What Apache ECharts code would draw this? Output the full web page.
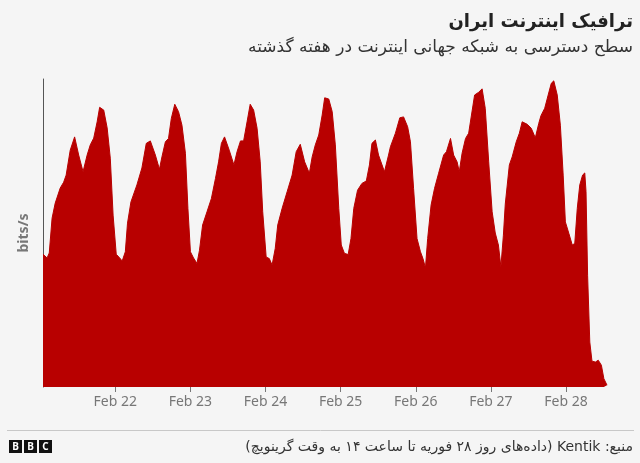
<!DOCTYPE html>
<html>
<head>
<meta charset="utf-8">
<script src="https://cdn.jsdelivr.net/npm/echarts@6/dist/echarts.min.js"></script>
<style>
  html, body { margin: 0; padding: 0; background: #f5f5f5; }
  #main { width: 640px; height: 463px; }
</style>
</head>
<body>
<div id="main" dir="rtl"></div>
<script>
// ساعت از شروع ۲۱ فوریه و مقدار نسبی ترافیک (خوانده از نمودار)
var hours = [0.9,2.2,2.9,3.8,4.8,6.4,7.5,8.3,9.6,11.0,
  12.3,13.7,15.0,16.0,17.1,18.2,19.0,20.3,21.4,22.4,
  23.3,24.3,25.4,26.2,27.2,27.9,29.0,30.9,32.5,33.9,
  35.2,36.8,38.1,38.9,40.0,41.0,41.9,43.0,44.2,45.3,
  46.4,47.2,48.0,49.0,50.1,50.9,51.9,53.3,54.7,56.0,
  57.0,57.9,58.9,60.4,61.9,62.9,64.0,65.0,66.1,67.1,
  68.2,69.3,70.3,71.1,72.2,73.2,74.1,75.1,75.9,77.3,
  78.9,80.5,81.8,83.1,84.5,86.0,86.9,87.9,89.0,90.1,
  90.9,92.2,93.3,94.3,95.4,96.2,97.2,98.4,99.3,100.2,
  101.4,102.8,104.2,105.2,106.0,107.1,108.1,110.0,111.3,111.9,
  113.5,114.9,116.1,117.4,118.3,119.3,120.4,121.5,122.3,123.1,
  123.8,124.9,126.0,127.3,128.9,129.8,131.1,132.1,133.2,133.9,
  134.8,135.9,136.9,137.8,138.8,140.1,141.2,142.2,143.3,144.4,
  145.4,146.4,147.2,148.0,148.6,149.9,150.8,152.1,153.1,154.0,
  155.6,156.9,158.2,159.3,160.0,161.2,162.3,163.3,164.1,165.2,
  166.2,167.1,167.8,168.9,170.0,170.8,171.6,172.4,173.3,174.0,
  174.4,174.9,175.6,176.3,177.4,178.3,179.3,180.1,181.1];

var traffic = [43.1,41.9,43.5,54.8,59.7,64.6,66.5,68.8,76.9,81.2,
  75.3,69.9,75.3,78.6,80.8,86.1,90.8,89.9,84.1,74.3,
  55.8,43.1,41.9,40.9,43.9,53.2,60.1,65.6,71.1,79.1,
  79.9,75.3,70.7,74.7,79.6,80.7,87.2,91.8,89.4,85.0,
  75.9,58.0,43.9,41.9,40.1,44.4,52.6,56.9,61.2,67.7,
  73.1,79.1,81.2,76.9,72.1,76.4,79.9,79.9,86.1,91.8,
  89.9,84.0,73.1,56.9,42.2,41.7,39.6,45.0,52.6,58.0,
  63.4,68.8,76.4,78.8,73.1,69.4,74.7,78.6,81.8,88.3,
  93.9,93.5,89.4,78.6,58.0,46.1,43.4,43.0,48.2,58.0,
  63.9,66.1,66.9,72.1,79.1,80.2,75.3,69.9,75.3,78.0,
  82.4,87.4,87.7,84.5,79.6,64.5,48.2,43.9,41.7,38.7,
  48.2,59.1,64.5,69.4,75.3,76.4,80.7,75.3,73.1,69.9,
  75.9,80.7,82.4,88.3,94.8,95.7,96.8,90.5,73.1,56.9,
  50.0,46.1,39.0,49.3,59.4,72.1,74.7,79.6,82.4,86.1,
  85.3,84.0,80.9,85.6,88.1,90.5,94.8,98.6,99.4,94.8,
  85.0,68.8,53.6,49.9,46.1,46.6,58.0,65.6,68.8,69.5,
  63.4,36.3,14.6,8.4,8.1,8.7,7.1,2.7,0.6];

var title = 'ترافیک اینترنت ایران';
var subtitle = 'سطح دسترسی به شبکه جهانی اینترنت در هفته گذشته';
var source = 'منبع: Kentik (داده‌های روز ۲۸ فوریه تا ساعت ۱۴ به وقت گرینویچ)';

var base = new Date(2026, 1, 21).getTime();
var HOUR = 3600 * 1000;
var data = hours.map(function (h, i) { return [base + h * HOUR, traffic[i]]; });

var faFont = '"DejaVu Sans", sans-serif';
var latinFont = '"Noto Sans", sans-serif';

var myChart = echarts.init(document.getElementById('main'));
myChart.setOption({
  backgroundColor: '#f5f5f5',
  animation: false,
  grid: { left: 43, right: 33, top: 79, bottom: 76, outerBoundsMode: 'none' },
  xAxis: {
    type: 'time',
    min: data[0][0],
    max: data[data.length - 1][0],
    minInterval: 24 * HOUR,
    maxInterval: 24 * HOUR,
    axisLine: { show: false },
    axisTick: { show: true, length: 5, lineStyle: { color: '#777' } },
    splitLine: { show: false },
    axisLabel: {
      showMinLabel: false,
      showMaxLabel: false,
      color: '#777',
      fontSize: 14,
      fontFamily: latinFont,
      margin: 8,
      formatter: function (val) {
        return 'Feb ' + new Date(val).getDate();
      }
    }
  },
  yAxis: {
    type: 'value',
    min: 0,
    max: 100,
    name: 'bits/s',
    nameLocation: 'middle',
    nameGap: 12,
    nameTextStyle: { color: '#777', fontSize: 14, fontWeight: 'bold', fontFamily: latinFont },
    axisLine: { show: true, lineStyle: { color: '#555', width: 1 } },
    axisTick: { show: false },
    axisLabel: { show: false },
    splitLine: { show: false }
  },
  series: [{
    type: 'line',
    data: data,
    showSymbol: false,
    lineStyle: { color: '#b80000', width: 1 },
    areaStyle: { color: '#b80000', opacity: 1 },
    itemStyle: { color: '#b80000' }
  }],
  graphic: [
    { type: 'text', x: 633, y: 22,
      style: { text: title, align: 'right', verticalAlign: 'middle', fill: '#222',
               font: 'bold 18px ' + faFont } },
    { type: 'text', x: 633, y: 48,
      style: { text: subtitle, align: 'right', verticalAlign: 'middle', fill: '#333',
               font: '17px ' + faFont } },
    { type: 'line', shape: { x1: 7, y1: 430.5, x2: 634, y2: 430.5 },
      style: { stroke: '#c8c8c8', lineWidth: 1 } },
    { type: 'rect', shape: { x: 9, y: 440, width: 13, height: 13 }, style: { fill: '#111' } },
    { type: 'rect', shape: { x: 24, y: 440, width: 13, height: 13 }, style: { fill: '#111' } },
    { type: 'rect', shape: { x: 39, y: 440, width: 13, height: 13 }, style: { fill: '#111' } },
    { type: 'text', x: 15.5, y: 447, style: { text: 'B', align: 'center', verticalAlign: 'middle', fill: '#fff', font: 'bold 10px ' + latinFont } },
    { type: 'text', x: 30.5, y: 447, style: { text: 'B', align: 'center', verticalAlign: 'middle', fill: '#fff', font: 'bold 10px ' + latinFont } },
    { type: 'text', x: 45.5, y: 447, style: { text: 'C', align: 'center', verticalAlign: 'middle', fill: '#fff', font: 'bold 10px ' + latinFont } },
    { type: 'text', x: 633, y: 447,
      style: { text: source, align: 'right', verticalAlign: 'middle', fill: '#333',
               font: '14px ' + faFont } }
  ]
});
</script>
</body>
</html>
